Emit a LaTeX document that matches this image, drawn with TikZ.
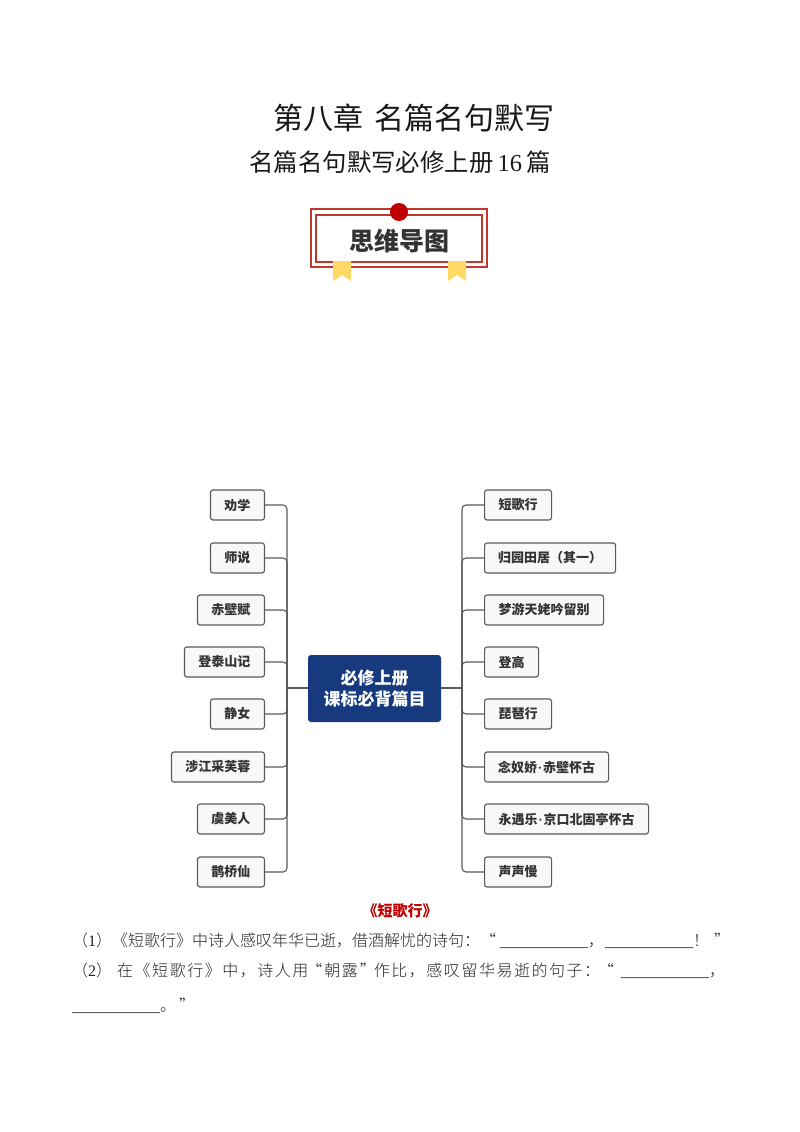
\documentclass[tikz,border=0pt]{standalone}
\usepackage{fontspec}
\setmainfont{Noto Sans CJK SC}
\newfontfamily\cjklight{Noto Sans CJK SC Light}
\newfontfamily\latinserif{Liberation Serif}
\newcommand{\fsz}[1]{\fontsize{#1}{#1}\selectfont}
\newcommand{\blk}{{\latinserif\_\_\_\_\_\_\_\_\_\_\_}}
\newcommand{\lqm}{\makebox[16pt][r]{“\hspace{2pt}}}
\newcommand{\rqm}{\makebox[16pt][l]{\hspace{2pt}”}}
\newcommand{\middot}{\makebox[6pt]{{\latinserif\bfseries ·}}}
\definecolor{boxline}{HTML}{5A5A5A}
\definecolor{boxfill}{HTML}{F8F8F8}
\definecolor{navy}{HTML}{163A7D}
\definecolor{inkdark}{HTML}{333333}
\definecolor{bannerred}{HTML}{C0392F}
\definecolor{dotred}{HTML}{C00000}
\definecolor{ribbon}{HTML}{FFD966}
\tikzset{
  topic/.style={draw=boxline,line width=1.1pt,fill=boxfill,rounded corners=2.5pt,minimum height=30pt,inner sep=0pt,text=inkdark,font=\fsz{13}\bfseries},
  ltopic/.style={topic,anchor=east},
  rtopic/.style={topic,anchor=west},
  hubbox/.style={fill=navy,rounded corners=3pt,minimum width=133pt,minimum height=67pt,inner sep=0pt,text=white,align=center},
  link/.style={draw=boxline,line width=1.1pt,rounded corners=4pt},
  titletext/.style={inner sep=0pt,text=black!90},
  bodytext/.style={inner sep=0pt,anchor=west,text=black!85,font=\cjklight\fsz{16}},
}
\begin{document}
\begin{tikzpicture}[x=1pt,y=-1pt]
\useasboundingbox (0,0) rectangle (800,1132);
\fill[white] (0,0) rectangle (800,1132);
% titles
\node[titletext] (t1) at (414,118) {\fsz{30}第八章\hspace{0.4em}名篇名句默写};
\node[titletext] (t2) at (400,162) {\fsz{24.4}名篇名句默写必修上册\,{\latinserif 16}\,篇};
% banner
\draw[bannerred,line width=1.2pt] (311,209) rectangle (487,267);
\draw[bannerred,line width=1.2pt] (316,215) rectangle (482,262);
\fill[ribbon] (333,261) -- (351,261) -- (351,281) -- (342,275) -- (333,281) -- cycle;
\fill[ribbon] (448,261) -- (466,261) -- (466,281) -- (457,275) -- (448,281) -- cycle;
\fill[dotred] (399,212) circle (9);
\node[inner sep=0pt,text=inkdark,font=\fsz{25}\bfseries] (banner) at (399,241) {思维导图};
% centre
\node[hubbox] (c) at (374.5,688.5) {\fsz{17}\bfseries 必修上册\\[4pt]\fsz{17}\bfseries 课标必背篇目};
\coordinate (hl) at (287,688);
\coordinate (hr) at (462,688);
% left
\node[ltopic,minimum width=54pt] (l1) at (265,505) {劝学};
\node[ltopic,minimum width=54pt] (l2) at (265,558) {师说};
\node[ltopic,minimum width=67pt] (l3) at (265,610) {赤壁赋};
\node[ltopic,minimum width=80pt] (l4) at (265,662) {登泰山记};
\node[ltopic,minimum width=54pt] (l5) at (265,714) {静女};
\node[ltopic,minimum width=93pt] (l6) at (265,767) {涉江采芙蓉};
\node[ltopic,minimum width=67pt] (l7) at (265,819) {虞美人};
\node[ltopic,minimum width=67pt] (l8) at (265,872) {鹊桥仙};
% right
\node[rtopic,minimum width=67pt] (r1) at (484,505) {短歌行};
\node[rtopic,minimum width=131pt] (r2) at (484,558) {归园田居（其一）};
\node[rtopic,minimum width=119pt] (r3) at (484,610) {梦游天姥吟留别};
\node[rtopic,minimum width=54pt] (r4) at (484,662) {登高};
\node[rtopic,minimum width=67pt] (r5) at (484,714) {琵琶行};
\node[rtopic,minimum width=124pt] (r6) at (484,767) {念奴娇\middot 赤壁怀古};
\node[rtopic,minimum width=164pt] (r7) at (484,819) {永遇乐\middot 京口北固亭怀古};
\node[rtopic,minimum width=67pt] (r8) at (484,872) {声声慢};
% connectors
\draw[link] (c.west |- hl) -- (hl);
\draw[link] (c.east |- hr) -- (hr);
\foreach \n in {l1,l2,l3,l4,l5,l6,l7,l8} \draw[link] (hl) |- (\n.east);
\foreach \n in {r1,r2,r3,r4,r5,r6,r7,r8} \draw[link] (hr) |- (\n.west);
% text
\node[inner sep=0pt,text=dotred,font=\fsz{15}\bfseries] (h) at (400,911) {《短歌行》};
\node[bodytext] (q1) at (72,941) {（{\latinserif 1}）《短歌行》中诗人感叹年华已逝，借酒解忧的诗句：“\hspace{4pt}\blk，\hspace{1pt}\blk！\hspace{5pt}”};
\node[bodytext] (q2) at (72,971) {\addfontfeature{LetterSpace=9.5}（{\latinserif 2}）\hspace{5pt}在《短歌行》中，诗人用\lqm 朝露\rqm 作比，感叹留华易逝的句子：\lqm\hspace{5pt}\blk，};
\node[bodytext] (q3) at (72,1006) {\blk。\hspace{3pt}”};
\end{tikzpicture}
\end{document}
